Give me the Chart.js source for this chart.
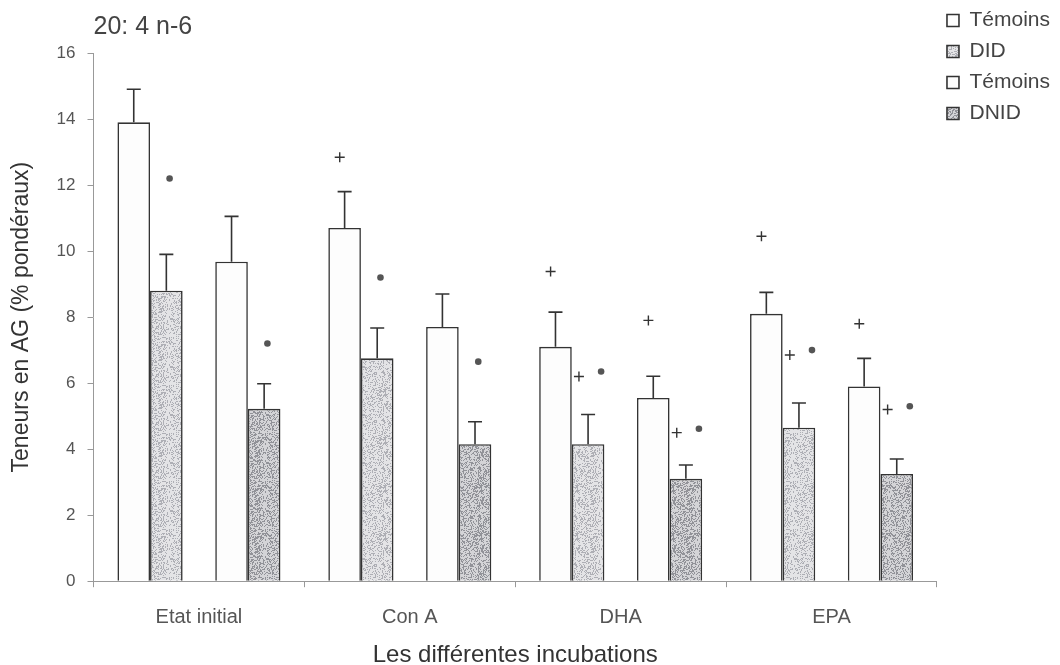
<!DOCTYPE html>
<html>
<head>
<meta charset="utf-8">
<script src="https://cdn.jsdelivr.net/npm/chart.js@4"></script>
<style>
  html, body { margin: 0; padding: 0; background: #fff; }
  #wrap { width: 1060px; height: 665px; }
</style>
</head>
<body>
<div id="wrap"><canvas id="chart"></canvas></div>
<script>
// categories and values (20:4 n-6, % ponderaux)
const categories = ['Etat initial', 'Con A', 'DHA', 'EPA'];
const temoins1 = [13.9, 10.7, 7.1, 8.1];
const temoins1Err = [1.0, 1.1, 1.05, 0.65];
const did = [8.8, 6.75, 4.15, 4.65];
const didErr = [1.1, 0.92, 0.9, 0.75];
const temoins2 = [9.68, 7.7, 5.55, 5.9];
const temoins2Err = [1.37, 1.0, 0.66, 0.85];
const dnid = [5.22, 4.15, 3.1, 3.25];
const dnidErr = [0.76, 0.68, 0.42, 0.45];

// significance marks ("+" and "*") heights
const plusTemoins1 = [null, 12.84, 9.38, 10.45];
const starDid = [12.2, 9.2, 6.35, 7.0];
const plusDid = [null, null, 6.2, 6.85];
const plusTemoins2 = [null, null, 7.9, 7.8];
const starDnid = [7.2, 6.65, 4.62, 5.3];
const plusDnid = [null, null, 4.5, 5.2];

const yTicks = [0, 2, 4, 6, 8, 10, 12, 14, 16];

const FONT = '"Liberation Sans", Arial, sans-serif';

// stippled fill like the scanned bars
function stipple(base, dot, density) {
    const c = document.createElement('canvas');
    c.width = 48; c.height = 48;
    const g = c.getContext('2d');
    g.fillStyle = base;
    g.fillRect(0, 0, 48, 48);
    g.fillStyle = dot;
    for (let i = 0; i < 48; i++) {
        for (let j = 0; j < 48; j++) {
            const h = Math.abs(Math.sin(i * 12.9898 + j * 78.233) * 43758.5453) % 1;
            if (h < density) g.fillRect(i, j, 1, 1);
        }
    }
    return g.createPattern(c, 'repeat');
}

const ctx = document.getElementById('chart').getContext('2d');
const didFill = stipple('#e4e4e6', 'rgba(130,132,140,0.55)', 0.3);
const dnidFill = stipple('#d4d4d7', 'rgba(100,102,110,0.6)', 0.38);

const marks = {
    id: 'marks',
    afterDatasetsDraw(chart) {
        const c = chart.ctx;
        const y = chart.scales.y;
        chart.data.datasets.forEach((ds, i) => {
            if (!ds.errors) return;
            const meta = chart.getDatasetMeta(i);
            meta.data.forEach((bar, j) => {
                const w = bar.width;
                const top = y.getPixelForValue(ds.data[j] + ds.errors[j]);
                c.save();
                c.strokeStyle = '#333';
                c.lineWidth = 1.6;
                c.beginPath();
                c.moveTo(bar.x, bar.y);
                c.lineTo(bar.x, top);
                c.moveTo(bar.x - 7, top);
                c.lineTo(bar.x + 7, top);
                c.stroke();

                const p = ds.plus ? ds.plus[j] : null;
                const s = ds.star ? ds.star[j] : null;
                if (p != null) {
                    const px = s != null ? bar.x - 0.28 * w : bar.x - 0.15 * w;
                    const py = y.getPixelForValue(p);
                    c.lineWidth = 1.4;
                    c.strokeStyle = '#333';
                    c.beginPath();
                    c.moveTo(px - 5, py); c.lineTo(px + 5, py);
                    c.moveTo(px, py - 5); c.lineTo(px, py + 5);
                    c.stroke();
                }
                if (s != null) {
                    const sx = p != null ? bar.x + 0.4 * w : bar.x + 0.1 * w;
                    const sy = y.getPixelForValue(s);
                    c.fillStyle = '#555';
                    c.beginPath();
                    c.arc(sx, sy, 3.3, 0, Math.PI * 2);
                    c.fill();
                }
                c.restore();
            });
        });
    }
};

new Chart(ctx, {
    type: 'bar',
    data: {
        labels: categories,
        datasets: [
            { label: 'Témoins', data: temoins1, errors: temoins1Err, plus: plusTemoins1,
              backgroundColor: '#fdfdfd', borderColor: '#333', borderWidth: 1.6 },
            { label: 'DID', data: did, errors: didErr, plus: plusDid, star: starDid,
              backgroundColor: didFill, borderColor: '#333', borderWidth: 1.6 },
            { label: '', data: [null, null, null, null],
              backgroundColor: 'transparent', borderWidth: 0 },
            { label: 'Témoins', data: temoins2, errors: temoins2Err, plus: plusTemoins2,
              backgroundColor: '#fdfdfd', borderColor: '#333', borderWidth: 1.6 },
            { label: 'DNID', data: dnid, errors: dnidErr, plus: plusDnid, star: starDnid,
              backgroundColor: dnidFill, borderColor: '#333', borderWidth: 1.6 }
        ]
    },
    options: {
        responsive: true,
        maintainAspectRatio: false,
        animation: false,
        barPercentage: 1,
        categoryPercentage: 0.773,
        layout: { padding: 0 },
        plugins: {
            title: {
                display: true,
                text: '20: 4 n-6',
                align: 'start',
                fullSize: false,
                color: '#444',
                font: { family: FONT, size: 25, weight: 'normal' },
                padding: { top: 12, bottom: 11 }
            },
            legend: {
                position: 'right',
                align: 'start',
                labels: {
                    boxWidth: 12,
                    boxHeight: 12,
                    padding: 10,
                    color: '#444',
                    font: { family: FONT, size: 21 },
                    filter: item => item.text !== ''
                }
            },
            tooltip: { enabled: false }
        },
        scales: {
            x: {
                grid: { display: true, drawOnChartArea: false, tickLength: 6, color: '#999' },
                border: { color: '#999', dash: [3, 3], width: 1 },
                ticks: { color: '#555', padding: 18, font: { family: FONT, size: 20 } },
                title: {
                    display: true,
                    text: 'Les différentes incubations',
                    color: '#333',
                    font: { family: FONT, size: 24 },
                    padding: { top: -6, bottom: -5 }
                }
            },
            y: {
                min: 0,
                max: 16,
                afterBuildTicks: axis => { axis.ticks = yTicks.map(v => ({ value: v })); },
                grid: { display: true, drawOnChartArea: false, tickLength: 6, color: '#999' },
                border: { color: '#999', dash: [3, 3], width: 1 },
                ticks: { color: '#555', padding: 12, font: { family: FONT, size: 17 } },
                title: {
                    display: true,
                    text: 'Teneurs en AG (% pondéraux)',
                    color: '#333',
                    font: { family: FONT, size: 23 },
                    padding: { top: 8, bottom: 9 }
                }
            }
        }
    },
    plugins: [marks]
});
</script>
</body>
</html>
